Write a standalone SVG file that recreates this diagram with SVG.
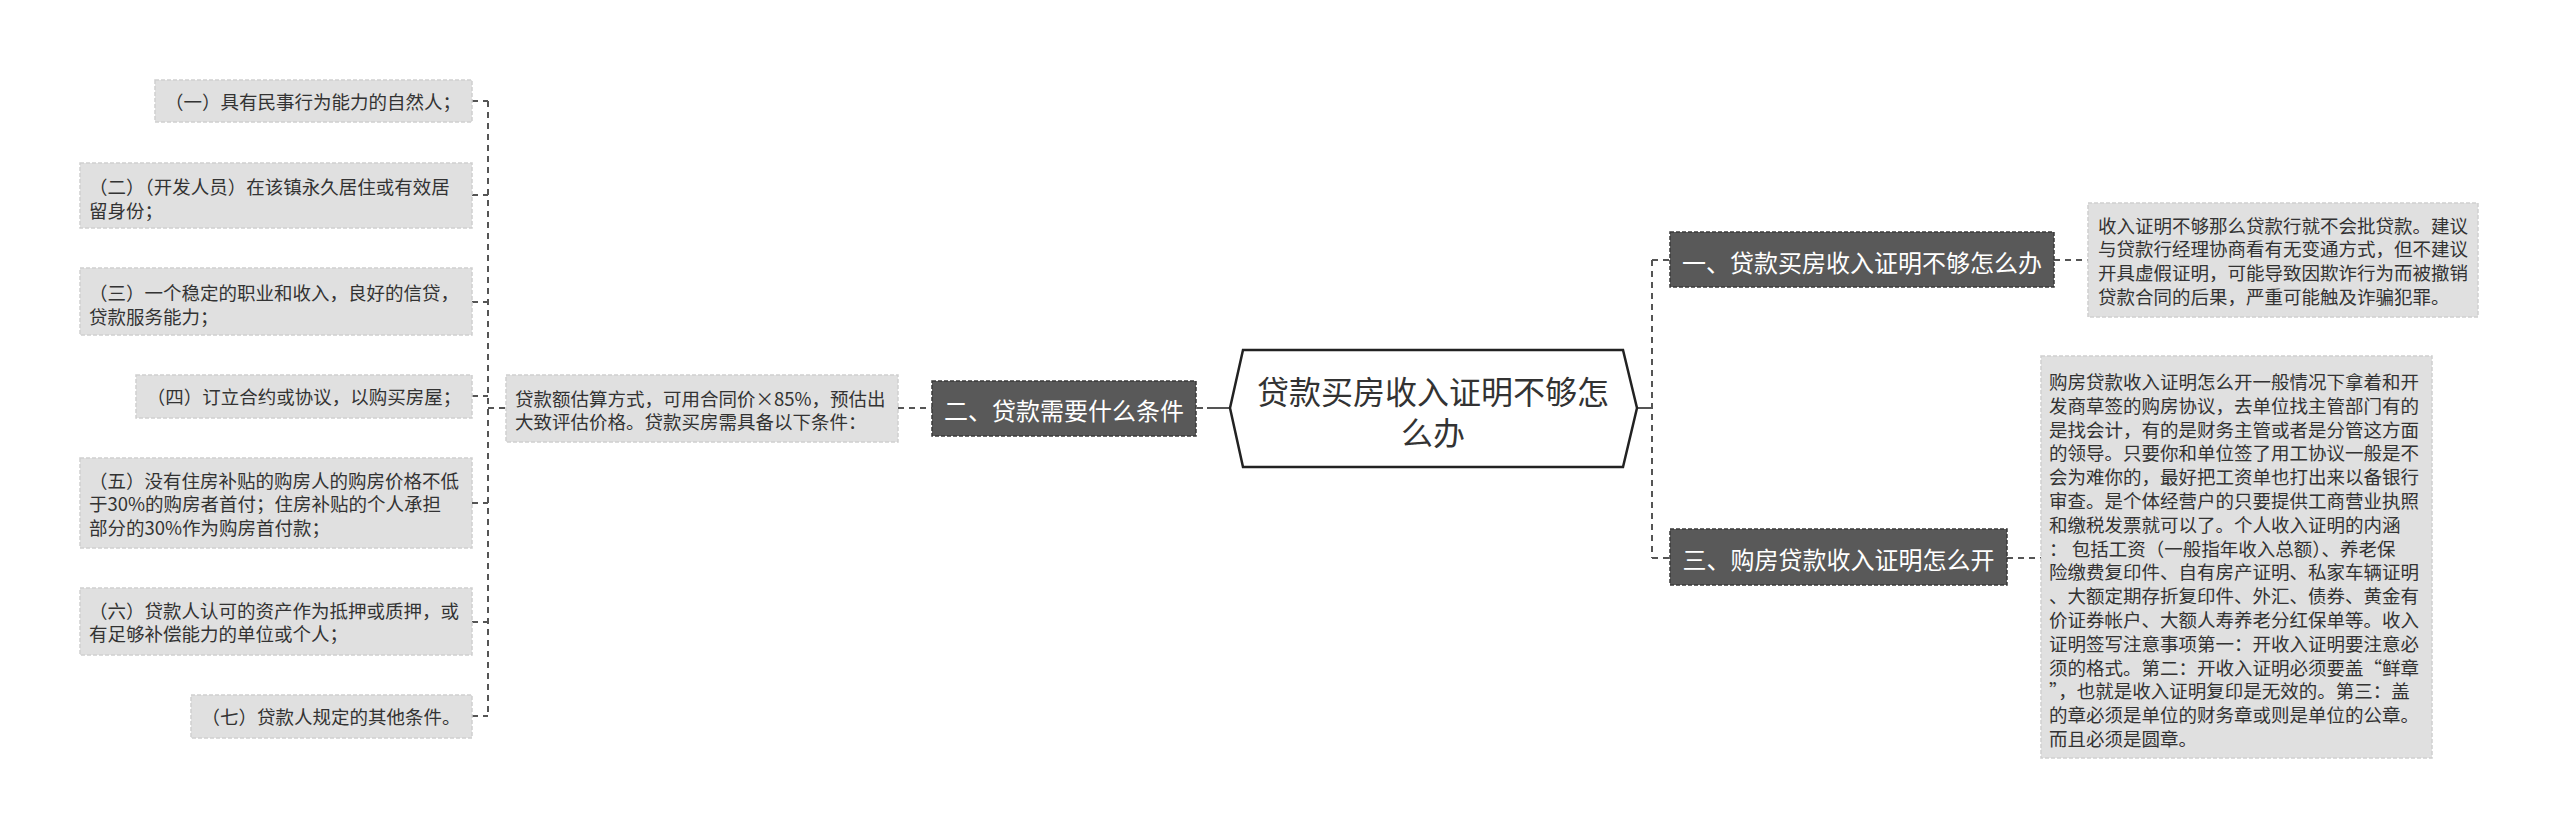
<svg xmlns="http://www.w3.org/2000/svg" width="2560" height="839" viewBox="0 0 2560 839">
<style>
.leaf{fill:#e0e0e0;stroke:#cfcfcf;stroke-width:1.5;stroke-dasharray:4 2}
.lt{font-family:"Noto Sans CJK SC","Liberation Sans",sans-serif;font-size:18.5px;fill:#333;dominant-baseline:central}
.dark{fill:#595959;stroke:#3a3a3a;stroke-width:1.5;stroke-dasharray:4 2}
.dt{font-family:"Noto Sans CJK SC","Liberation Sans",sans-serif;font-size:24px;fill:#fff;dominant-baseline:central;text-anchor:middle}
.rt{font-family:"Noto Sans CJK SC","Liberation Sans",sans-serif;font-size:32px;fill:#333;dominant-baseline:central;text-anchor:middle}
.c{fill:none;stroke:#555;stroke-width:2;stroke-dasharray:6 5}
.cs{fill:none;stroke:#555;stroke-width:2}
.mid{text-anchor:middle}
</style>
<rect width="2560" height="839" fill="#fff"/>
<g id="connectors">
<path class="c" d="M488 101V716"/>
<path class="c" d="M472 101H488M472 195H488M472 302H488M472 396H488M472 503H488M472 622H488M472 716H488"/>
<path class="c" d="M488 408H506"/>
<path class="c" d="M898 408H932"/>
<path class="cs" d="M1197 408H1203M1207 408H1230"/>
<path class="cs" d="M1637 408H1652"/>
<path class="c" d="M1652 260V558"/>
<path class="c" d="M1652 260H1670M1652 558H1670"/>
<path class="c" d="M2054 260H2088"/>
<path class="c" d="M2007 558H2041"/>
</g>
<g id="root">
<polygon points="1230,408 1243,350 1623,350 1637,408 1623,467 1243,467" fill="#fff" stroke="#222" stroke-width="2.5"/>
<text class="rt" x="1433" y="390">贷款买房收入证明不够怎</text>
<text class="rt" x="1433" y="431">么办</text>
</g>
<g id="n2">
<rect class="dark" x="932" y="381" width="264" height="55"/>
<text class="dt" x="1064" y="409">二、贷款需要什么条件</text>
</g>
<g id="n2-detail">
<rect class="leaf" x="506" y="375" width="392" height="67"/>
<text class="lt" x="515" y="398">贷款额估算方式，可用合同价×85%，预估出</text>
<text class="lt" x="515" y="421">大致评估价格。贷款买房需具备以下条件：</text>
</g>
<g id="c1">
<rect class="leaf" x="155" y="80" width="317" height="42"/>
<text class="lt mid" x="313" y="101">（一）具有民事行为能力的自然人；</text>
</g>
<g id="c2">
<rect class="leaf" x="80" y="163" width="392" height="65"/>
<text class="lt" x="89" y="186">（二）（开发人员）在该镇永久居住或有效居</text>
<text class="lt" x="89" y="210">留身份；</text>
</g>
<g id="c3">
<rect class="leaf" x="80" y="268" width="392" height="67"/>
<text class="lt" x="89" y="292">（三）一个稳定的职业和收入，良好的信贷，</text>
<text class="lt" x="89" y="316">贷款服务能力；</text>
</g>
<g id="c4">
<rect class="leaf" x="136" y="375" width="336" height="43"/>
<text class="lt mid" x="304" y="396">（四）订立合约或协议，以购买房屋；</text>
</g>
<g id="c5">
<rect class="leaf" x="80" y="458" width="392" height="90"/>
<text class="lt" x="89" y="480">（五）没有住房补贴的购房人的购房价格不低</text>
<text class="lt" x="89" y="503">于30%的购房者首付；住房补贴的个人承担</text>
<text class="lt" x="89" y="527">部分的30%作为购房首付款；</text>
</g>
<g id="c6">
<rect class="leaf" x="80" y="588" width="392" height="67"/>
<text class="lt" x="89" y="610">（六）贷款人认可的资产作为抵押或质押，或</text>
<text class="lt" x="89" y="633">有足够补偿能力的单位或个人；</text>
</g>
<g id="c7">
<rect class="leaf" x="191" y="695" width="281" height="43"/>
<text class="lt mid" x="331" y="716">（七）贷款人规定的其他条件。</text>
</g>
<g id="n1">
<rect class="dark" x="1670" y="232" width="384" height="55"/>
<text class="dt" x="1862" y="261">一、贷款买房收入证明不够怎么办</text>
</g>
<g id="n1-detail">
<rect class="leaf" x="2088" y="203" width="390" height="114"/>
<text class="lt" x="2098" y="225">收入证明不够那么贷款行就不会批贷款。建议</text>
<text class="lt" x="2098" y="248">与贷款行经理协商看有无变通方式，但不建议</text>
<text class="lt" x="2098" y="272">开具虚假证明，可能导致因欺诈行为而被撤销</text>
<text class="lt" x="2098" y="296">贷款合同的后果，严重可能触及诈骗犯罪。</text>
</g>
<g id="n3">
<rect class="dark" x="1670" y="529" width="337" height="56"/>
<text class="dt" x="1838.5" y="558">三、购房贷款收入证明怎么开</text>
</g>
<g id="n3-detail">
<rect class="leaf" x="2041" y="356" width="391" height="402"/>
<text class="lt" x="2049" y="381">购房贷款收入证明怎么开一般情况下拿着和开</text>
<text class="lt" x="2049" y="405">发商草签的购房协议，去单位找主管部门有的</text>
<text class="lt" x="2049" y="429">是找会计，有的是财务主管或者是分管这方面</text>
<text class="lt" x="2049" y="452">的领导。只要你和单位签了用工协议一般是不</text>
<text class="lt" x="2049" y="476">会为难你的，最好把工资单也打出来以备银行</text>
<text class="lt" x="2049" y="500">审查。是个体经营户的只要提供工商营业执照</text>
<text class="lt" x="2049" y="524">和缴税发票就可以了。个人收入证明的内涵</text>
<text class="lt" x="2049" y="548">： 包括工资（一般指年收入总额）、养老保</text>
<text class="lt" x="2049" y="571">险缴费复印件、自有房产证明、私家车辆证明</text>
<text class="lt" x="2049" y="595">、大额定期存折复印件、外汇、债券、黄金有</text>
<text class="lt" x="2049" y="619">价证券帐户、大额人寿养老分红保单等。收入</text>
<text class="lt" x="2049" y="643">证明签写注意事项第一：开收入证明要注意必</text>
<text class="lt" x="2049" y="667">须的格式。第二：开收入证明必须要盖“鲜章</text>
<text class="lt" x="2049" y="690">”，也就是收入证明复印是无效的。第三：盖</text>
<text class="lt" x="2049" y="714">的章必须是单位的财务章或则是单位的公章。</text>
<text class="lt" x="2049" y="738">而且必须是圆章。</text>
</g>
</svg>
